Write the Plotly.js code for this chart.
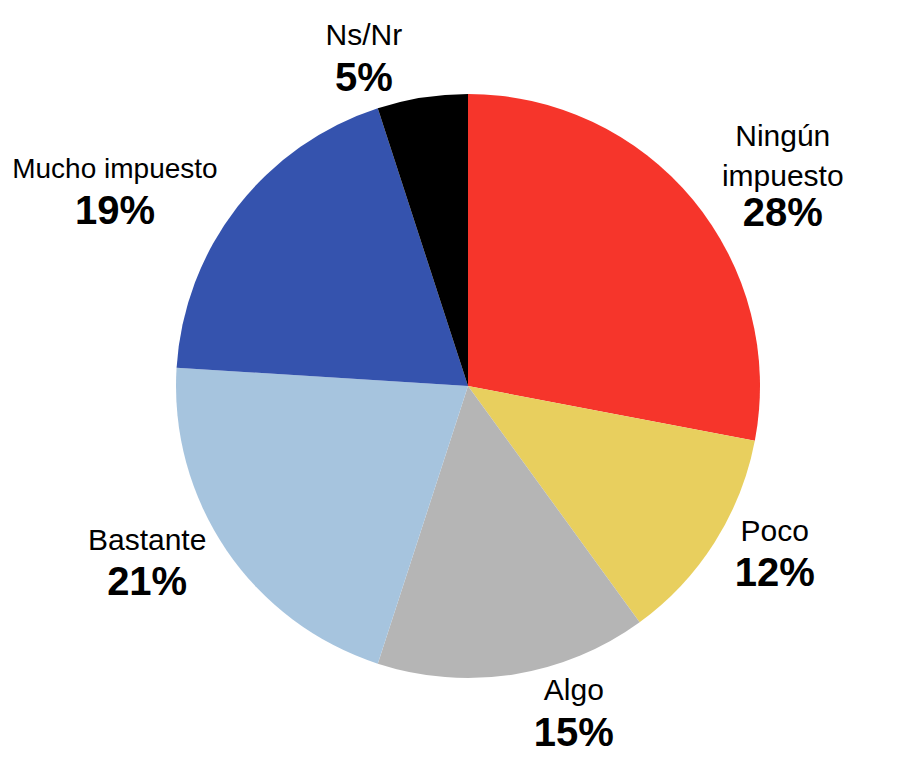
<!DOCTYPE html>
<html><head><meta charset="utf-8">
<script src="https://cdn.plot.ly/plotly-3.0.1.min.js"></script>
<style>body{margin:0;background:#fff}#c{width:899px;height:761px}</style>
</head><body><div id="c"></div>
<script>
const categories = ["Ningún<br>impuesto", "Poco", "Algo", "Bastante", "Mucho impuesto", "Ns/Nr"];
const values = [28, 12, 15, 21, 19, 5];
const colors = ["#F6352B", "#E8CF5E", "#B5B5B5", "#A6C4DE", "#3553AE", "#000000"];

const labelSizes = [30, 30, 30, 30, 28, 30];
const templates = labelSizes.map(s =>
  "<span style='font-size:" + s + "px'>%{label}</span><br><span style='font-size:40px'><b>%{value}%</b></span>");

Plotly.newPlot("c", [{
  type: "pie",
  labels: categories,
  values: values,
  sort: false,
  direction: "clockwise",
  rotation: 0,
  marker: {colors: colors, line: {width: 0}},
  textposition: "outside",
  texttemplate: templates,
  textfont: {family: "Liberation Sans, Arial, sans-serif", size: [31, 35, 35, 35, 35, 35], color: "#000"},
  automargin: false,
  showlegend: false,
  hoverinfo: "none"
}], {
  width: 899, height: 761,
  margin: {l: 176, r: 139, t: 94, b: 83},
  paper_bgcolor: "#fff",
  showlegend: false
}, {staticPlot: true});
</script></body></html>
